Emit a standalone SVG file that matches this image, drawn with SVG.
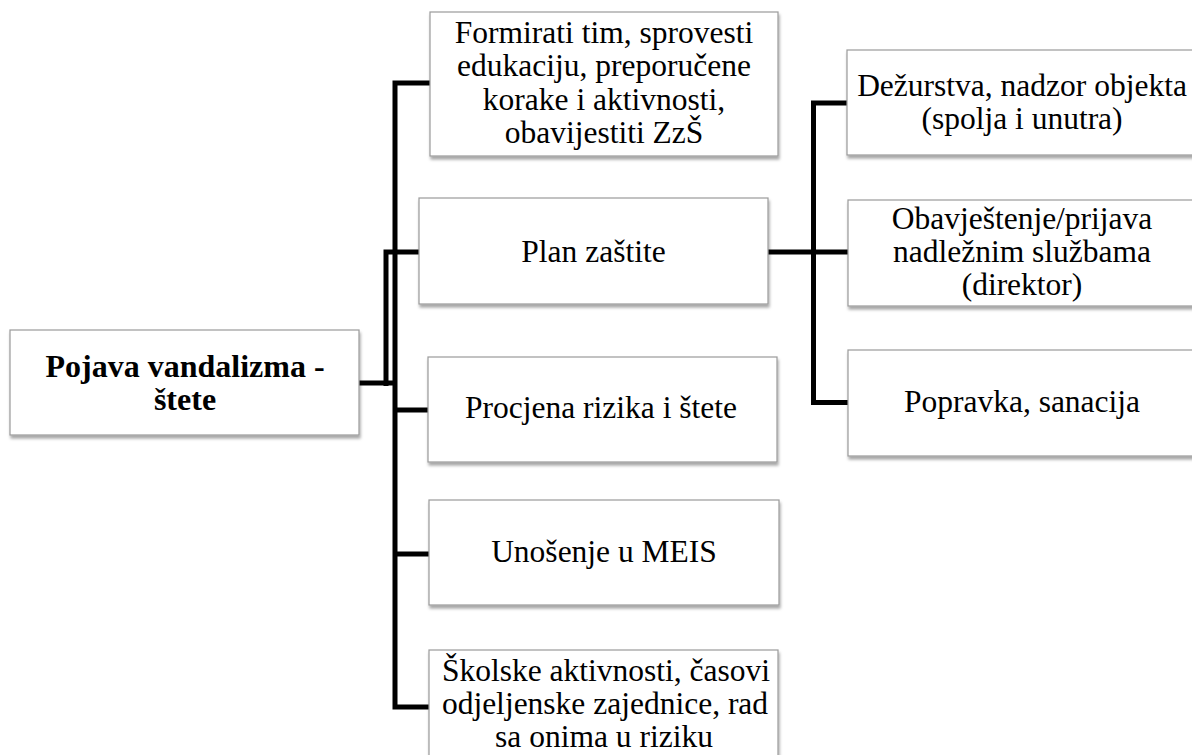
<svg xmlns="http://www.w3.org/2000/svg" width="1192" height="755" viewBox="0 0 1192 755">
<defs>
<filter id="sh" x="-5%" y="-5%" width="115%" height="125%">
<feDropShadow dx="1" dy="3" stdDeviation="1.5" flood-color="#000" flood-opacity="0.35"/>
</filter>
<style>
.box{fill:#fff;stroke:#9a9a9a;stroke-width:1.2;filter:url(#sh)}
.t{font-family:'Liberation Serif','Tinos','Times New Roman','DejaVu Serif',serif;font-size:31.5px;fill:#000;text-anchor:middle}
.b{font-weight:bold;font-size:32px}
.c{fill:none;stroke:#000;stroke-width:5;stroke-linecap:butt;stroke-linejoin:miter}
</style>
</defs>
<rect width="1192" height="755" fill="#fff"/>
<g id="connectors">
<path class="c" d="M359,383 H397"/>
<path class="c" d="M386,386 V252 H419"/>
<path class="c" d="M430,83 H395 V707 H429"/>
<path class="c" d="M395,410 H428"/>
<path class="c" d="M395,554 H429"/>
<path class="c" d="M768,252 H848"/>
<path class="c" d="M848,103 H813.5 V402.5 H848"/>
</g>
<g id="root">
<rect class="box" x="10" y="330" width="349" height="105"/>
<text class="t b" x="185" y="377">Pojava vandalizma -</text>
<text class="t b" x="185" y="410">štete</text>
</g>
<g id="formirati">
<rect class="box" x="430" y="12" width="348" height="144"/>
<text class="t" x="604" y="43">Formirati tim, sprovesti</text>
<text class="t" x="604" y="76">edukaciju, preporučene</text>
<text class="t" x="604" y="110">korake i aktivnosti,</text>
<text class="t" x="604" y="143">obavijestiti ZzŠ</text>
</g>
<g id="plan">
<rect class="box" x="419" y="198" width="349" height="106"/>
<text class="t" x="593.5" y="262">Plan zaštite</text>
</g>
<g id="procjena">
<rect class="box" x="428" y="357" width="349" height="105"/>
<text class="t" x="601" y="418">Procjena rizika i štete</text>
</g>
<g id="unosenje">
<rect class="box" x="429" y="500" width="350" height="105"/>
<text class="t" x="604" y="562">Unošenje u MEIS</text>
</g>
<g id="skolske">
<rect class="box" x="429" y="650" width="349" height="130"/>
<text class="t" x="606" y="681">Školske aktivnosti, časovi</text>
<text class="t" x="605" y="714">odjeljenske zajednice, rad</text>
<text class="t" x="604" y="747">sa onima u riziku</text>
</g>
<g id="dezurstva">
<rect class="box" x="847" y="50" width="349" height="105"/>
<text class="t" x="1022" y="96">Dežurstva, nadzor objekta</text>
<text class="t" x="1022" y="129">(spolja i unutra)</text>
</g>
<g id="obavjestenje">
<rect class="box" x="848" y="200" width="349" height="106"/>
<text class="t" x="1022" y="229">Obavještenje/prijava</text>
<text class="t" x="1022" y="262">nadležnim službama</text>
<text class="t" x="1022" y="295">(direktor)</text>
</g>
<g id="popravka">
<rect class="box" x="848" y="350" width="349" height="106"/>
<text class="t" x="1022" y="412">Popravka, sanacija</text>
</g>
</svg>
